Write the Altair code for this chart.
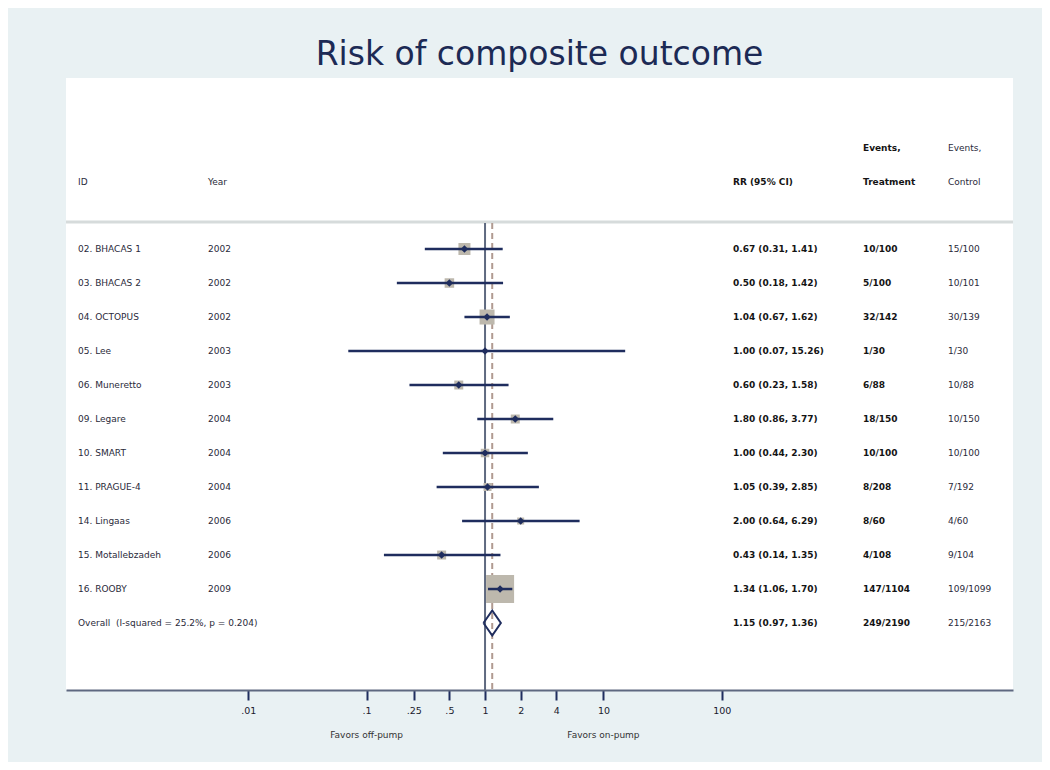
import altair as alt
import pandas as pd

# ---- data ----
study_ids = ["02. BHACAS 1", "03. BHACAS 2", "04. OCTOPUS", "05. Lee", "06. Muneretto",
             "09. Legare", "10. SMART", "11. PRAGUE-4", "14. Lingaas", "15. Motallebzadeh",
             "16. ROOBY"]
years = ["2002", "2002", "2002", "2003", "2003", "2004", "2004", "2004", "2006", "2006", "2009"]
rr = [0.67, 0.50, 1.04, 1.00, 0.60, 1.80, 1.00, 1.05, 2.00, 0.43, 1.34]
rr_lo = [0.31, 0.18, 0.67, 0.07, 0.23, 0.86, 0.44, 0.39, 0.64, 0.14, 1.06]
rr_hi = [1.41, 1.42, 1.62, 15.26, 1.58, 3.77, 2.30, 2.85, 6.29, 1.35, 1.70]
events_treat = ["10/100", "5/100", "32/142", "1/30", "6/88", "18/150", "10/100", "8/208",
                "8/60", "4/108", "147/1104"]
events_ctrl = ["15/100", "10/101", "30/139", "1/30", "10/88", "10/150", "10/100", "7/192",
               "4/60", "9/104", "109/1099"]
weights = [8.6, 5.4, 13.4, 0.5, 4.8, 4.8, 4.3, 3.8, 2.9, 4.8, 46.7]  # % weight

overall_label = "Overall \u00a0(I-squared = 25.2%, p = 0.204)"
overall_rr, overall_lo, overall_hi = 1.15, 0.97, 1.36
overall_treat, overall_ctrl = "249/2190", "215/2163"

tick_values = [0.01, 0.1, 0.25, 0.5, 1, 2, 4, 10, 100]
tick_labels = [".01", ".1", ".25", ".5", "1", "2", "4", "10", "100"]
favor_text = ["Favors off-pump", "Favors on-pump"]
favor_at = [0.1, 10]

title_text = "Risk of composite outcome"

# ---- styling ----
NAVY = "#1F2D5E"
BOX = "#BDB8AD"
BG = "#E9F1F3"
FONT = "DejaVu Sans"
W, H = 947, 612

n = len(study_ids)
studies = pd.DataFrame({
    "id": study_ids, "year": years, "rr": rr, "lo": rr_lo, "hi": rr_hi,
    "ev_t": events_treat, "ev_c": events_ctrl, "w": weights, "row": list(range(n)),
})
studies["rr_text"] = [f"{a:.2f} ({b:.2f}, {c:.2f})" for a, b, c in zip(rr, rr_lo, rr_hi)]

table = pd.DataFrame({
    "id": study_ids + [overall_label],
    "year": years + [""],
    "rr_text": list(studies["rr_text"]) + [f"{overall_rr:.2f} ({overall_lo:.2f}, {overall_hi:.2f})"],
    "ev_t": events_treat + [overall_treat],
    "ev_c": events_ctrl + [overall_ctrl],
    "row": list(range(n + 1)),
})

half = 0.37
diamond = pd.DataFrame({
    "x": [overall_lo, overall_rr, overall_hi, overall_rr, overall_lo],
    "row": [n, n - half, n, n + half, n],
    "o": [0, 1, 2, 3, 4],
})

refs = pd.DataFrame({"x": [1.0], "ov": [overall_rr]})
favors = pd.DataFrame({"t": favor_text, "x": favor_at})

label_expr = " : ".join(f"datum.value == {v} ? '{l}'" for v, l in zip(tick_values, tick_labels)) + " : ''"

xscale = alt.Scale(type="log", domain=[10 ** -3.539, 10 ** 4.459], nice=False)
yscale = alt.Scale(domain=[-5.03, 12.97], reverse=True)

xaxis = alt.Axis(values=tick_values, labelExpr=label_expr, title=None, grid=False,
                 domainColor="#5E6880", domainWidth=2, tickColor=NAVY, tickWidth=2,
                 tickSize=10, labelFontSize=9.5, labelColor="#1A1A2E", labelFont=FONT,
                 labelPadding=5, labelFlush=False, labelOverlap=False)

Y = lambda f: alt.Y(f, scale=yscale, axis=None)

sep = alt.Chart(refs).mark_rule(color="#D6DBDB", strokeWidth=3).encode(
    x=alt.value(0), x2=alt.value(W), y=alt.value(144))

ref_line = alt.Chart(refs).mark_rule(color="#5F6A80", strokeWidth=2).encode(
    x=alt.X("x:Q", scale=xscale, axis=xaxis), y=alt.value(145), y2=alt.value(H))

ov_line = alt.Chart(refs).mark_rule(color="#B09A90", strokeWidth=2, strokeDash=[6, 4]).encode(
    x=alt.X("ov:Q", scale=xscale), y=alt.value(145), y2=alt.value(H))

boxes = alt.Chart(studies).mark_square(color=BOX, opacity=1, filled=True).encode(
    x=alt.X("rr:Q", scale=xscale),
    y=Y("row:Q"),
    size=alt.Size("w:Q", scale=alt.Scale(domain=[0, 100], range=[0, 1680]), legend=None),
)

ci = alt.Chart(studies).mark_rule(color=NAVY, strokeWidth=2.5).encode(
    x=alt.X("lo:Q", scale=xscale), x2="hi:Q", y=Y("row:Q"))

pts = alt.Chart(studies).mark_point(shape="diamond", filled=True, color=NAVY, size=55, opacity=1).encode(
    x=alt.X("rr:Q", scale=xscale), y=Y("row:Q"))

dia = alt.Chart(diamond).mark_line(color=NAVY, strokeWidth=2).encode(
    x=alt.X("x:Q", scale=xscale), y=Y("row:Q"), order="o:Q")

def col(field, xpx, weight="normal", color="#2A2A3A"):
    return alt.Chart(table).mark_text(align="left", baseline="middle", font=FONT, fontSize=9,
                                      fontWeight=weight, color=color).encode(
        x=alt.value(xpx), y=Y("row:Q"), text=f"{field}:N")

cols = [
    col("id", 12), col("year", 142),
    col("rr_text", 667, "bold", "#141414"),
    col("ev_t", 797, "bold", "#141414"),
    col("ev_c", 882),
]

hdr_rows = pd.DataFrame({
    "t": ["ID", "Year", "RR (95% CI)", "Events,", "Treatment", "Events,", "Control"],
    "xp": [12, 142, 667, 797, 797, 882, 882],
    "yp": [104, 104, 104, 70, 104, 70, 104],
    "b": ["n", "n", "b", "b", "b", "n", "n"],
})
hdr_n = alt.Chart(hdr_rows[hdr_rows.b == "n"]).mark_text(
    align="left", baseline="middle", font=FONT, fontSize=9, color="#2A2A3A").encode(
    x=alt.X("xp:Q", scale=None, axis=None), y=alt.Y("yp:Q", scale=None, axis=None), text="t:N")
hdr_b = alt.Chart(hdr_rows[hdr_rows.b == "b"]).mark_text(
    align="left", baseline="middle", font=FONT, fontSize=9, fontWeight="bold", color="#141414").encode(
    x=alt.X("xp:Q", scale=None, axis=None), y=alt.Y("yp:Q", scale=None, axis=None), text="t:N")

fav = alt.Chart(favors).mark_text(align="center", baseline="middle", font=FONT, fontSize=9,
                                  color="#333333").encode(
    x=alt.X("x:Q", scale=xscale), y=alt.value(H + 45), text="t:N")

chart = alt.layer(
    sep, ref_line, ov_line, boxes, ci, pts, dia, *cols, hdr_n, hdr_b, fav
).resolve_scale(x="shared", y="independent").properties(
    width=W, height=H,
    title=alt.TitleParams(title_text, fontSize=33, font=FONT, fontWeight="normal",
                          color="#1C2A55", anchor="middle", offset=6),
    autosize=alt.AutoSizeParams(type="none"),
    padding={"left": 58, "top": 70, "right": 29, "bottom": 72},
    background=BG,
).configure_view(fill="white", stroke=None)

chart.save("out.html", embed_options={"renderer": "svg", "actions": False})
